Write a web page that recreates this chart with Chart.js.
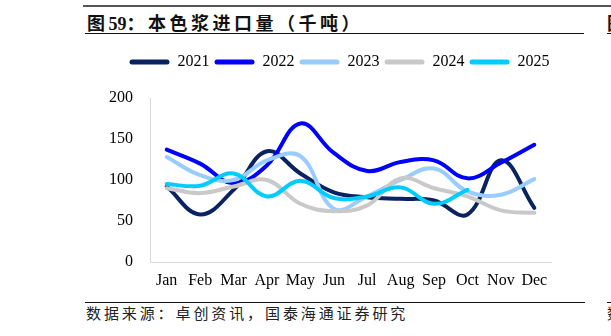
<!DOCTYPE html>
<html>
<head>
<meta charset="utf-8">
<script src="https://cdn.jsdelivr.net/npm/chart.js@4.4.1/dist/chart.umd.min.js"></script>
<style>
  html, body { margin:0; padding:0; background:#fff; }
  body { width:611px; height:336px; position:relative; overflow:hidden; }
  #wrap { position:absolute; left:0; top:0; width:611px; height:336px; }
  .ln { position:absolute; }
  .title { position:absolute; left:87px; top:10px; font-family:"Noto Sans CJK SC"; font-weight:700; font-size:18px; line-height:24px; letter-spacing:3.5px; color:#111; white-space:nowrap; }
  .title b { font-family:"Liberation Serif"; font-weight:700; letter-spacing:0; }
  .src { position:absolute; left:86px; top:302px; font-family:"Noto Sans CJK SC"; font-size:15px; line-height:22px; letter-spacing:2.9px; color:#222; white-space:nowrap; }
</style>
</head>
<body>
<div class="ln" style="left:83px; top:5px; width:528px; height:2px; background:#555;"></div>
<div class="title">图<b>59</b>：本色浆进口量（千吨）</div>
<div class="ln" style="left:85px; top:33px; width:499px; height:1.4px; background:#111;"></div>
<div class="ln" style="left:607px; top:33px; width:4px; height:1.4px; background:#111;"></div>
<div class="title" style="left:607px;">图</div>
<div class="ln" style="left:85px; top:302px; width:500px; height:1.2px; background:#111;"></div>
<div class="ln" style="left:607px; top:302px; width:4px; height:1.2px; background:#111;"></div>
<div class="src">数据来源：卓创资讯，国泰海通证券研究</div>
<div class="src" style="left:607px;">数</div>
<div id="wrap"><canvas id="c" width="611" height="336"></canvas></div>
<script>
const months = ["Jan","Feb","Mar","Apr","May","Jun","Jul","Aug","Sep","Oct","Nov","Dec"];
const seriesNames = ["2021","2022","2023","2024","2025"];
const y2021 = [92, 58, 88, 135, 108, 85, 79, 77, 75, 58, 124, 66];
const y2022 = [137, 120, 96, 118, 169, 133, 111, 122, 124, 102, 121, 143];
const y2023 = [128, 106, 100, 124, 129, 65, 80, 100, 114, 86, 82, 101];
const y2024 = [90, 84, 92, 100, 71, 62, 69, 102, 90, 80, 63, 60];
const y2025 = [95, 93, 108, 80, 99, 78, 80, 91, 71, 88, null, null];
const yTicks = [0, 50, 100, 150, 200];

const colors = ["#0B2260", "#0000FF", "#99CCFF", "#C9C9C9", "#00CCFF"];
const values = [y2021, y2022, y2023, y2024, y2025];

const datasets = seriesNames.map((name, i) => ({
  label: name,
  data: values[i],
  borderColor: colors[i],
  backgroundColor: colors[i],
  borderWidth: 4,
  pointRadius: 0,
  pointHoverRadius: 0,
  tension: 0.4,
  borderCapStyle: 'round',
  borderJoinStyle: 'round',
  spanGaps: false,
  fill: false,
  order: seriesNames.length - i
}));

Chart.defaults.font.family = "'Liberation Serif', 'Times New Roman', serif";
Chart.defaults.color = "#000";

const legendShift = {
  id: 'legendShift',
  afterLayout(chart) {
    if (chart.legend) { chart.legend.left += 10; chart.legend.right += 10; }
  }
};

new Chart(document.getElementById('c'), {
  type: 'line',
  data: { labels: months, datasets },
  plugins: [legendShift],
  options: {
    responsive: false,
    animation: false,
    events: [],
    layout: { padding: { left: 108, right: 60, top: 49, bottom: 44 } },
    plugins: {
      tooltip: { enabled: false },
      legend: {
        display: true,
        position: 'top',
        labels: {
          font: { size: 16 },
          color: '#000',
          boxWidth: 40,
          boxHeight: 5,
          padding: 5,
          useBorderRadius: true,
          borderRadius: 2.5,
          sort: (a, b) => a.datasetIndex - b.datasetIndex,
          generateLabels(chart) {
            const items = Chart.defaults.plugins.legend.labels.generateLabels(chart);
            items.forEach(it => { it.fillStyle = it.strokeStyle; it.lineWidth = 0; });
            return items;
          }
        }
      }
    },
    scales: {
      x: {
        type: 'category',
        offset: true,
        grid: { display: false, drawTicks: false },
        border: { display: true, color: '#D9D9D9', width: 1 },
        ticks: { font: { size: 16 }, color: '#000', padding: 9, maxRotation: 0, autoSkip: false },
        afterFit(s) { s.height = 30; }
      },
      xspacer: {
        type: 'category',
        position: 'top',
        display: true,
        grid: { display: false, drawTicks: false },
        border: { display: false },
        ticks: { display: false },
        afterFit(s) { s.height = 18; }
      },
      y: {
        min: 0,
        max: 200,
        afterBuildTicks(s) { s.ticks = yTicks.map(v => ({ value: v })); },
        grid: { display: false, drawTicks: false },
        border: { display: true, color: '#D9D9D9', width: 1 },
        ticks: { font: { size: 16 }, color: '#000', padding: 17 },
        afterFit(s) { s.width = 42; }
      }
    }
  }
});
</script>
</body>
</html>
